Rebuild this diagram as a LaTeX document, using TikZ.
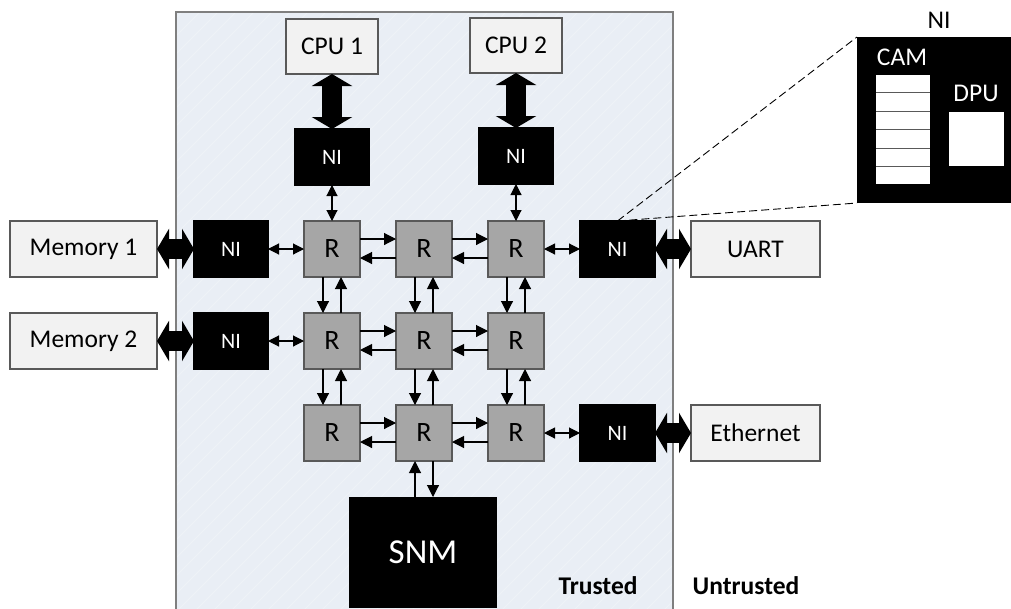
\documentclass[tikz,border=0pt]{standalone}
\usepackage{fontspec}
\setmainfont{Carlito}
\usetikzlibrary{arrows.meta}
\definecolor{trustbg}{RGB}{233,238,245}
\definecolor{trustbd}{RGB}{127,127,127}
\definecolor{boxbg}{RGB}{242,242,242}
\definecolor{boxbd}{RGB}{89,89,89}
\definecolor{rtbg}{RGB}{166,166,166}
\tikzset{
  base/.style={inner sep=0pt, outer sep=0pt, line width=1.2pt},
  lightbox/.style={base, draw=boxbd, fill=boxbg, font=\fontsize{25.5}{30}\selectfont},
  router/.style={base, draw=boxbd, fill=rtbg, minimum width=56pt, minimum height=56pt, font=\fontsize{28}{32}\selectfont},
  nibox/.style={base, draw=black, fill=black, text=white, minimum width=74pt, minimum height=56pt, font=\fontsize{22}{25}\selectfont},
  thickarr/.style={line width=20pt, {Triangle[length=12pt,width=40pt]}-{Triangle[length=12pt,width=40pt]}},
  thinarr/.style={line width=1.1pt, -{Triangle[length=12pt,width=12pt]}},
  dblarr/.style={line width=1.1pt, {Triangle[length=11pt,width=11pt]}-{Triangle[length=11pt,width=11pt]}},
  lbl/.style={inner sep=0pt, font=\fontsize{25.5}{30}\selectfont},
}
\begin{document}
\begin{tikzpicture}[x=1pt,y=-1pt]
\useasboundingbox (0,0) rectangle (1011,608);
% trusted region
\fill[trustbg] (176,12) rectangle (673,620);
\begin{scope}
  \clip (176,12) rectangle (673,620);
  \foreach \k in {0,...,65} {
    \draw[white, opacity=0.25, line width=0.8pt] (\k*18-480,620) -- ++(660,-660);
  }
\end{scope}
\draw[trustbd, line width=1.5pt] (176,620) -- (176,12) -- (673,12) -- (673,620);

% CPUs and their NIs
\node[lightbox, minimum width=92pt, minimum height=55pt] (cpu1) at (332,46.5) {CPU 1};
\node[lightbox, minimum width=92pt, minimum height=55pt] (cpu2) at (516,45.5) {CPU 2};
\node[nibox] (nic1) at (332,157) {NI};
\node[nibox] (nic2) at (516,156) {NI};

% routers
\foreach \r/\y in {1/249,2/341,3/433} {
  \foreach \c/\x in {1/332,2/424,3/516} {
    \node[router] (r\r\c) at (\x,\y) {R};
  }
}

% memories
\node[lightbox, minimum width=147pt, minimum height=56pt] (mem1) at (83.5,249) {Memory 1};
\node[lightbox, minimum width=147pt, minimum height=56pt] (mem2) at (83.5,341) {Memory 2};
\node[nibox] (nim1) at (231,249) {NI};
\node[nibox] (nim2) at (231,341) {NI};

% UART, Ethernet
\node[nibox, minimum width=75pt] (niu) at (617.5,249) {NI};
\node[nibox, minimum width=75pt] (nie) at (617.5,433) {NI};
\node[lightbox, minimum width=129pt, minimum height=56pt] (uart) at (755.5,249) {UART};
\node[lightbox, minimum width=129pt, minimum height=56pt] (eth) at (755.5,433) {Ethernet};

% SNM
\node[base, fill=black, text=white, minimum width=148pt, minimum height=111pt, font=\fontsize{35}{40}\selectfont] (snm) at (423,552.5) {SNM};

% thick arrows
\draw[thickarr] (cpu1.south) -- (nic1.north);
\draw[thickarr] (cpu2.south) -- (nic2.north);
\draw[thickarr] (mem1.east) -- (nim1.west);
\draw[thickarr] (mem2.east) -- (nim2.west);
\draw[thickarr] (niu.east) -- (uart.west);
\draw[thickarr] (nie.east) -- (eth.west);

% NI <-> router
\draw[dblarr] (nic1.south) -- (r11.north);
\draw[dblarr] (nic2.south -| r13.north) -- (r13.north);
\draw[dblarr] (nim1.east) -- (r11.west);
\draw[dblarr] (nim2.east) -- (r21.west);
\draw[dblarr] (r13.east) -- (niu.west);
\draw[dblarr] (r33.east) -- (nie.west);

% horizontal router links
\foreach \r in {1,2,3} {
  \draw[thinarr] ([yshift=10pt]r\r1.east) -- ([yshift=10pt]r\r2.west);
  \draw[thinarr] ([yshift=-9pt]r\r2.west) -- ([yshift=-9pt]r\r1.east);
  \draw[thinarr] ([yshift=10pt]r\r2.east) -- ([yshift=10pt]r\r3.west);
  \draw[thinarr] ([yshift=-9pt]r\r3.west) -- ([yshift=-9pt]r\r2.east);
}
% vertical router links
\foreach \c in {1,2,3} {
  \draw[thinarr] ([xshift=-9pt]r1\c.south) -- ([xshift=-9pt]r2\c.north);
  \draw[thinarr] ([xshift=9pt]r2\c.north) -- ([xshift=9pt]r1\c.south);
  \draw[thinarr] ([xshift=-9pt]r2\c.south) -- ([xshift=-9pt]r3\c.north);
  \draw[thinarr] ([xshift=9pt]r3\c.north) -- ([xshift=9pt]r2\c.south);
}
% SNM links
\draw[thinarr] ([xshift=-9pt]r32.south |- snm.north) -- ([xshift=-9pt]r32.south);
\draw[thinarr] ([xshift=9pt]r32.south) -- ([xshift=9pt]r32.south |- snm.north);

% zoomed NI
\node[base, fill=black, minimum width=160pt, minimum height=166pt] (zni) at (937,120) {};
\node[lbl] (znilbl) at (939,20) {NI};
\node[lbl, text=white] (camlbl) at (902,57) {CAM};
\node[lbl, text=white] (dpulbl) at (976,93) {DPU};
\node[base, fill=white, minimum width=54pt, minimum height=109pt] (cam) at (903,129.5) {};
\foreach \yy in {92,111,129,148,166} {
  \draw[boxbd, line width=0.8pt] (cam.west |- 0,\yy) -- (cam.east |- 0,\yy);
}
\node[base, fill=white, minimum width=55pt, minimum height=54pt] (dpu) at (976.5,139) {};
\draw[dashed, dash pattern=on 8pt off 4pt, line width=0.9pt] (niu.north) -- (zni.north west);
\draw[dashed, dash pattern=on 8pt off 4pt, line width=0.9pt] (niu.north) -- (zni.south west);

% region labels
\node[lbl, font=\fontsize{25.5}{30}\selectfont\bfseries] (trusted) at (598,586) {Trusted};
\node[lbl, font=\fontsize{25.5}{30}\selectfont\bfseries] (untrusted) at (746,586) {Untrusted};
\end{tikzpicture}
\end{document}
